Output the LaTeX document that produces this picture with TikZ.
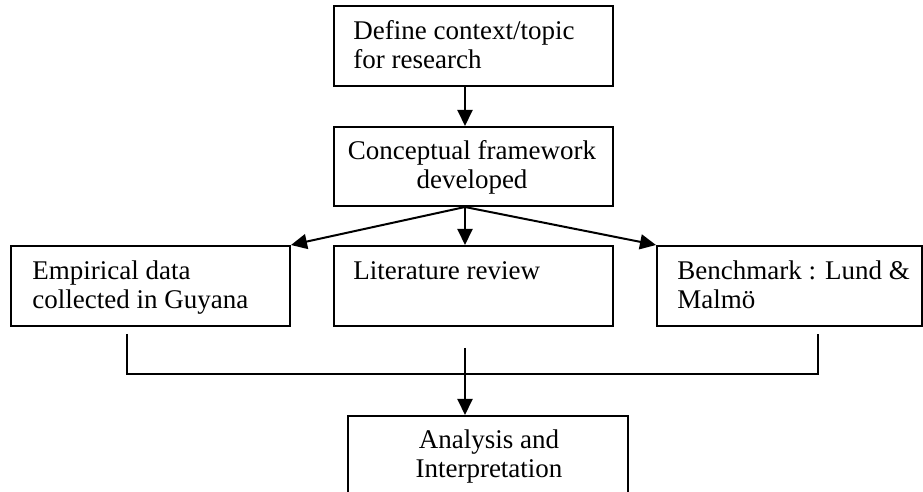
\documentclass[tikz,border=0pt]{standalone}
\usepackage{fontspec}
\setmainfont{Liberation Serif}
\usetikzlibrary{arrows.meta}
\begin{document}
\begin{tikzpicture}[x=0.5pt,y=-0.5pt,
  box/.style={draw, line width=1pt, anchor=north west, inner sep=0pt,
              minimum width=139.5pt, minimum height=40pt},
  % multi-line texts are placed by the baseline of their last line
  txt/.style={anchor=base west, inner sep=0pt, align=left,
              font=\fontsize{13.5}{14.5}\selectfont},
  ctxt/.style={anchor=base, inner sep=0pt, align=center,
               font=\fontsize{13.5}{14.5}\selectfont},
  arr/.style={line width=1pt, -{Triangle[length=8pt,width=7.5pt]}},
  lin/.style={line width=1pt}]
\clip (0,0) rectangle (923,492);

% boxes
\node[box] (topic) at (333,5) {};
\node[box, minimum height=39.5pt] (frame) at (333,126) {};
\node[box] (emp) at (10,245) {};
\node[box] (lit) at (333,245) {};
\node[box, minimum width=132.5pt] (bench) at (656,245) {};
\node[box, minimum width=140pt, minimum height=50pt] (ana) at (347,415) {};

% texts
\node[txt] (ttopic) at (353,69) {Define context/topic\\for research};
\node[ctxt] (tframe) at (472,189) {Conceptual framework\\developed};
\node[txt] (temp) at (32,309) {Empirical data\\collected in Guyana};
\node[txt] (tlit) at (353,280) {Literature review};
\node[txt] (tbench) at (677,309) {Benchmark : Lund \&\\Malmö};
\node[ctxt] (tana) at (489,478) {Analysis and\\Interpretation};

% helper points for the connectors
\coordinate (axis) at (465,0);
\coordinate (lj) at (127,334);
\coordinate (rj) at (818,334);
\coordinate (mj) at (465,348);
\coordinate (bar) at (0,374);

% connectors
\draw[arr] (topic.south -| axis) -- (frame.north -| axis);
\draw[arr] (frame.south -| axis) -- (emp.north east);
\draw[arr] (frame.south -| axis) -- (lit.north -| axis);
\draw[arr] (frame.south -| axis) -- (bench.north west);
\draw[lin] (lj) |- (bar -| rj) -- (rj);
\draw[arr] (mj) -- (ana.north -| axis);
\end{tikzpicture}
\end{document}
